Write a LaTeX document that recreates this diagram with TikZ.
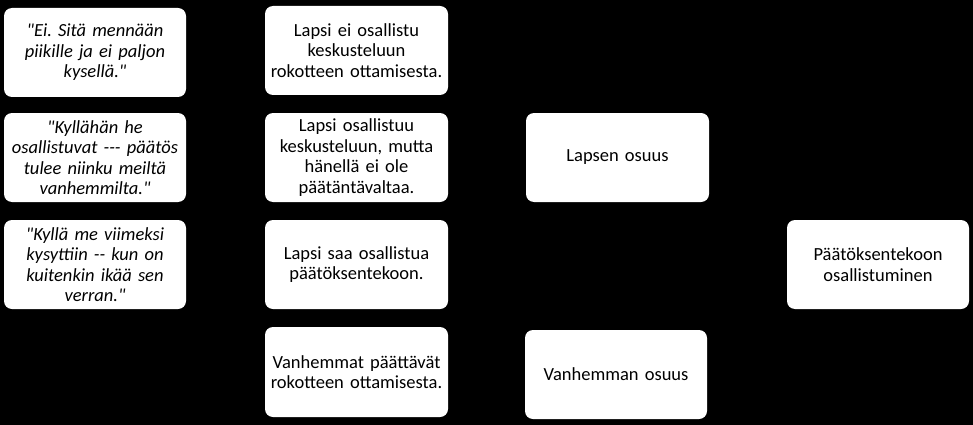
\documentclass[tikz,border=0pt]{standalone}
\usepackage{fontspec}
\newfontfamily\carl{Carlito}
\frenchspacing
\begin{document}
\begin{tikzpicture}[x=1pt,y=-1pt,
  box/.style={fill=white, rounded corners=8pt, inner sep=0pt, align=center,
    minimum width=182pt, minimum height=89pt, text width=180pt,
    font=\carl\fontsize{18.5}{20.5}\selectfont},
  quote/.style={box, font=\carl\fontsize{18.5}{20.5}\selectfont\itshape}]
\fill[black] (0,0) rectangle (973,425);
\useasboundingbox (0,0) rectangle (973,425);
\node[quote] (q1) at (95,52.5) {"Ei. Sitä mennään\\piikille ja ei paljon\\kysellä."};
\node[quote] (q2) at (95,157.5) {"Kyllähän he\\osallistuvat --- päätös\\tulee niinku meiltä\\vanhemmilta."};
\node[quote] (q3) at (95,264.5) {"Kyllä me viimeksi\\kysyttiin -- kun on\\kuitenkin ikää sen\\verran."};
\node[box, minimum width=183pt] (b1) at (356.5,50.5) {Lapsi ei osallistu\\keskusteluun\\rokotteen ottamisesta.};
\node[box, minimum width=183pt] (b2) at (356.5,157.5) {Lapsi osallistuu\\keskusteluun, mutta\\hänellä ei ole\\päätäntävaltaa.};
\node[box, minimum width=183pt] (b3) at (356.5,264.5) {Lapsi saa osallistua\\päätöksentekoon.};
\node[box, minimum width=183pt, minimum height=90pt] (b4) at (356.5,372) {Vanhemmat päättävät\\rokotteen ottamisesta.};
\node[box, minimum width=183pt] (lo) at (617.5,157.5) {Lapsen osuus};
\node[box] (vo) at (616,374.5) {Vanhemman osuus};
\node[box] (po) at (878,264.5) {Päätöksentekoon\\osallistuminen};
\end{tikzpicture}
\end{document}
